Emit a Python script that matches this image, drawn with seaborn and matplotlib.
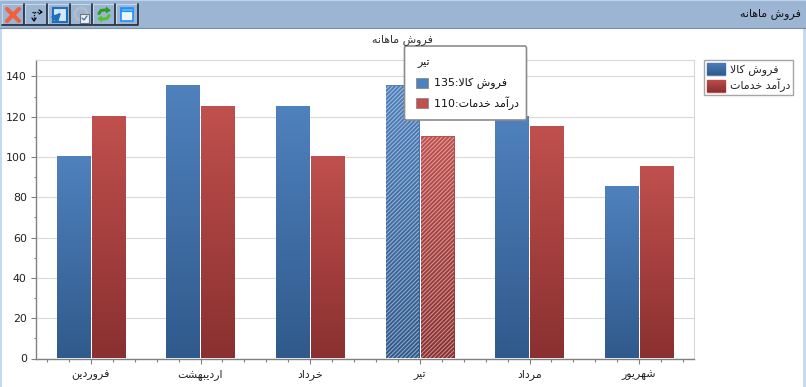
import re
import numpy as np
import pandas as pd
import matplotlib
matplotlib.use('Agg')
import matplotlib.pyplot as plt
from matplotlib.colors import LinearSegmentedColormap
from matplotlib.patches import Rectangle, FancyBboxPatch, Patch, Polygon
from matplotlib.ticker import MultipleLocator
import seaborn as sns

months = ['فروردین', 'اردیبهشت', 'خرداد', 'تیر', 'مرداد', 'شهریور']
series_names = ['فروش کالا', 'درآمد خدمات']
goods_sales = [100, 135, 125, 135, 120, 85]
service_income = [120, 125, 100, 110, 115, 95]
chart_title = 'فروش ماهانه'
highlight = 'تیر'

BLUE = ('#4f81bd', '#305a8c')
RED = ('#c0504d', '#8a3030')

# matplotlib has no arabic shaping, so pick presentation forms by hand
# (isolated, final, initial, medial)
FORMS = {
    'ا': (0xFE8D, 0xFE8E), 'آ': (0xFE81, 0xFE82), 'د': (0xFEA9, 0xFEAA),
    'ر': (0xFEAD, 0xFEAE), 'و': (0xFEED, 0xFEEE), '\uFEFB': (0xFEFB, 0xFEFC),
    'ب': (0xFE8F, 0xFE90, 0xFE91, 0xFE92), 'پ': (0xFB56, 0xFB57, 0xFB58, 0xFB59),
    'ت': (0xFE95, 0xFE96, 0xFE97, 0xFE98), 'خ': (0xFEA5, 0xFEA6, 0xFEA7, 0xFEA8),
    'ش': (0xFEB5, 0xFEB6, 0xFEB7, 0xFEB8), 'ف': (0xFED1, 0xFED2, 0xFED3, 0xFED4),
    'ک': (0xFB8E, 0xFB8F, 0xFB90, 0xFB91), 'ل': (0xFEDD, 0xFEDE, 0xFEDF, 0xFEE0),
    'م': (0xFEE1, 0xFEE2, 0xFEE3, 0xFEE4), 'ن': (0xFEE5, 0xFEE6, 0xFEE7, 0xFEE8),
    'ه': (0xFEE9, 0xFEEA, 0xFEEB, 0xFEEC), 'ی': (0xFBFC, 0xFBFD, 0xFBFE, 0xFBFF),
}


def fa(text):
    text = text.replace('لا', '\uFEFB')
    out = []
    for i, ch in enumerate(text):
        f = FORMS.get(ch)
        if f is None:
            out.append(ch)
            continue
        prev = FORMS.get(text[i - 1]) if i > 0 else None
        nxt = FORMS.get(text[i + 1]) if i + 1 < len(text) else None
        joins_prev = prev is not None and len(prev) == 4
        joins_next = nxt is not None and len(f) == 4
        if joins_prev and joins_next:
            out.append(chr(f[3]))
        elif joins_next:
            out.append(chr(f[2]))
        elif joins_prev:
            out.append(chr(f[1]))
        else:
            out.append(chr(f[0]))
    visual = ''.join(out)[::-1]
    return re.sub(r'\d+', lambda m: m.group()[::-1], visual)


def gradient(colors):
    return LinearSegmentedColormap.from_list('g', [colors[0], colors[1]])


sns.set_theme(style='white')
plt.rcParams['font.family'] = ['DejaVu Sans']
plt.rcParams['hatch.linewidth'] = 0.7

W, H = 806, 387
fig = plt.figure(figsize=(W / 100, H / 100), dpi=100, facecolor='white')
ax = fig.add_axes([36 / W, 1 - 358.5 / H, 658 / W, 299 / H])

df = pd.DataFrame({
    'month': months * 2,
    'series': [series_names[0]] * 6 + [series_names[1]] * 6,
    'value': goods_sales + service_income,
})
sns.barplot(data=df, x='month', y='value', hue='series', ax=ax, width=0.64, gap=0.05,
            palette=[BLUE[0], RED[0]], legend=False, saturation=1)

ramp = np.linspace(0, 1, 128).reshape(-1, 1)
for container, colors in zip(ax.containers, [BLUE, RED]):
    for name, bar in zip(months, container):
        x0, y0, w, h = bar.get_x(), bar.get_y(), bar.get_width(), bar.get_height()
        ax.imshow(ramp, cmap=gradient(colors), extent=(x0, x0 + w, y0, y0 + h),
                  aspect='auto', origin='upper', zorder=2)
        bar.set_facecolor('none')
        bar.set_linewidth(0)
        if name == highlight:
            bar.set_hatch('////////')
            bar.set_edgecolor((1, 1, 1, 0.5))
            bar.set_zorder(3)

ax.set_xlim(-0.5, 5.5)
ax.set_ylim(0, 148.4)
ax.set_xlabel('')
ax.set_ylabel('')
ax.set_xticks(range(len(months)))
ax.set_xticklabels([fa(m) for m in months], fontsize=7.9, color='#222222', va='baseline')
ax.xaxis.set_minor_locator(MultipleLocator(0.2))
ax.yaxis.set_major_locator(MultipleLocator(20))
ax.yaxis.set_minor_locator(MultipleLocator(10))
ax.tick_params(axis='y', which='major', left=True, length=3.6, width=0.8, color='#808080',
               labelsize=7.9, labelcolor='#222222', pad=3)
ax.tick_params(axis='y', which='minor', left=True, length=1.8, width=0.8, color='#808080')
ax.tick_params(axis='x', which='major', bottom=True, length=3.6, width=0.8, color='#808080', pad=9.8)
ax.tick_params(axis='x', which='minor', bottom=True, length=1.8, width=0.8, color='#808080')
ax.grid(axis='y', which='major', color='#d9d9d9', linewidth=0.8, zorder=0)
ax.set_axisbelow(True)
for side in ['left', 'bottom']:
    ax.spines[side].set_color('#808080')
    ax.spines[side].set_linewidth(1)
for side in ['top', 'right']:
    ax.spines[side].set_color('#d9d9d9')
    ax.spines[side].set_linewidth(0.8)

# legend, swatches get their gradient after the layout is known
leg = ax.legend(handles=[Patch(color=BLUE[0]), Patch(color=RED[0])],
                labels=[fa(s) for s in series_names],
                loc='upper left', bbox_to_anchor=(704 / W, 1 - 60 / H),
                bbox_transform=fig.transFigure, fontsize=7.9, frameon=True, fancybox=False,
                edgecolor='#a6a6a6', framealpha=1, borderpad=0.25, borderaxespad=0,
                handlelength=1.65, handleheight=1.35, handletextpad=0.45, labelspacing=0.28)
leg.get_frame().set_linewidth(1)
fig.canvas.draw()
for handle, colors in zip(leg.get_patches(), [BLUE, RED]):
    bb = handle.get_window_extent().transformed(fig.transFigure.inverted())
    sw = fig.add_axes([bb.x0, bb.y0, bb.width, bb.height], zorder=5)
    sw.imshow(ramp, cmap=gradient(colors), aspect='auto')
    sw.axis('off')

# window chrome and tooltip drawn in pixel coordinates
ui = fig.add_axes([0, 0, 1, 1], zorder=10)
ui.set_xlim(0, W)
ui.set_ylim(H, 0)
ui.axis('off')
ui.patch.set_alpha(0)

ui.add_patch(Rectangle((0, 0), W, 28, fc='#9bb5d3', ec='none'))
ui.add_patch(Rectangle((0, 0), W, 1.2, fc='#bcd4f0', ec='none'))
ui.plot([0, W], [27.5, 27.5], color='#7f8ea0', lw=0.8)
ui.add_patch(Rectangle((803, 28), 3, H - 28, fc='#c5d9f1', ec='none'))
ui.add_patch(Rectangle((0, 28), 1.5, H - 28, fc='#c5d9f1', ec='none'))
ui.text(801, 14, fa(chart_title), ha='right', va='center', fontsize=7.9, color='#111111')

for x0 in [1.5, 24.5, 47.5, 70, 93, 115.5]:
    ui.add_patch(Rectangle((x0, 3.5), 22, 21.5, fc='#9bb5d3', ec='#c9d6e6', lw=0.8))
    ui.plot([x0 + 22, x0 + 22, x0], [3.5, 25, 25], color='#1c2a3a', lw=1.2)

# delete
ui.plot([7, 19], [9, 21], color='#f0613c', lw=3)
ui.plot([19, 7], [9, 21], color='#f0613c', lw=3)
# pointer arrows
ui.plot([32, 41], [12, 12], color='black', lw=0.9, ls=(0, (1, 1)))
ui.plot([34, 34], [12, 20], color='black', lw=0.9, ls=(0, (1, 1)))
ui.plot([39, 42, 39], [10, 12, 14], color='black', lw=0.9)
ui.plot([32, 34, 36], [18, 21, 18], color='black', lw=0.9)
# export button
ui.add_patch(Rectangle((52.5, 7.5), 14, 14, fc='#d5e6f7', ec='#1f6fc0', lw=1.5))
ui.annotate('', xy=(63, 10.5), xytext=(56, 18), arrowprops=dict(arrowstyle='-|>', color='#1f6fc0', lw=1.6))
# disabled dialog
ui.add_patch(plt.Circle((81, 14), 6, fc='none', ec='#b5bec8', lw=1.8))
ui.add_patch(Rectangle((80, 14), 9, 9, fc='#eef1f4', ec='#6d7680', lw=0.8))
ui.plot([82, 84, 87], [18, 20, 16], color='#3a6ea5', lw=0.9)
# refresh
ui.plot([99, 101, 105, 107], [13.5, 10.5, 10, 10], color='#2f9e1f', lw=2.2)
ui.add_patch(Polygon([(106, 6.5), (111, 10.5), (106, 13.5)], fc='#2f9e1f', ec='none'))
ui.plot([109, 107, 103, 101], [15.5, 18.5, 19, 19], color='#54c22e', lw=2.2)
ui.add_patch(Polygon([(102, 15.5), (97, 18.5), (102, 22.5)], fc='#54c22e', ec='none'))
# window
ui.add_patch(Rectangle((121, 8), 12, 13, fc='#eef6fd', ec='#1e90ff', lw=1.2))
ui.add_patch(Rectangle((121, 8), 12, 3, fc='#55b5f5', ec='#1e90ff', lw=0.8))

ui.text(402, 40, fa(chart_title), ha='center', va='center', fontsize=7.9, color='#333333')

ui.add_patch(FancyBboxPatch((404.5, 46), 122, 74, boxstyle='round,pad=0,rounding_size=2',
                            fc='white', ec='#8c8c8c', lw=1.2))
ui.text(430, 63, fa(highlight), ha='right', va='center', fontsize=7.9, color='#111111')
k = months.index(highlight)
rows = [(series_names[0], goods_sales[k], BLUE[0], 83), (series_names[1], service_income[k], RED[0], 103)]
for name, val, col, y in rows:
    ui.add_patch(Rectangle((416, y - 5), 12, 10, fc=col, ec='#7f7f7f', lw=0.5))
    ui.text(434, y, fa(f'{name}:{val}'), ha='left', va='center', fontsize=7.9, color='#111111')

fig.savefig('out.png', dpi=100)
